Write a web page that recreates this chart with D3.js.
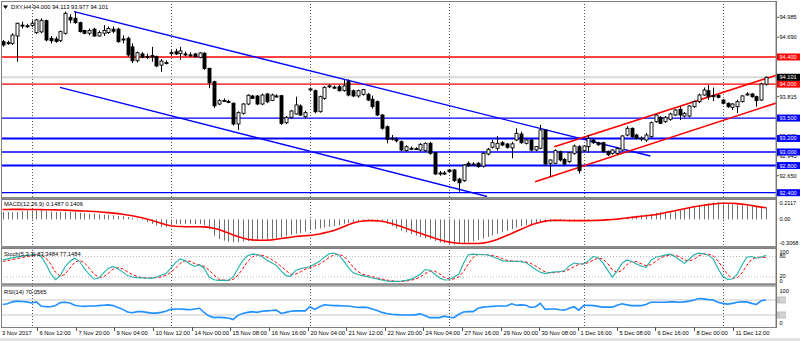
<!DOCTYPE html>
<html>
<head>
<meta charset="utf-8">
<script src="https://cdn.jsdelivr.net/npm/d3@7"></script>
<style>
  body { margin: 0; background: #fff; }
  svg { display: block; }
  text { font-family: "Liberation Sans", Arial, sans-serif; }
</style>
</head>
<body>
<svg id="chart" width="800" height="341"></svg>
<script>
// ---- DXY H4 candles ----
const opens = [
  94.626, 94.611, 94.602, 94.709, 94.870, 94.860, 94.866, 94.758, 94.770, 94.935,
  94.675, 94.665, 94.640, 94.749, 94.985, 94.970, 94.906, 94.790, 94.750, 94.810,
  94.710, 94.750, 94.760, 94.810, 94.810, 94.665, 94.675, 94.550, 94.345, 94.445,
  94.410, 94.420, 94.405, 94.280, 94.315, 94.460, 94.478, 94.450, 94.445, 94.430,
  94.445, 94.395, 94.455, 94.233, 94.036, 93.707, 93.760, 93.745, 93.718, 93.413,
  93.570, 93.707, 93.825, 93.825, 93.707, 93.855, 93.760, 93.826, 93.830, 93.432,
  93.510, 93.560, 93.678, 93.520, 93.930, 93.903, 93.594, 93.790, 93.970, 93.955,
  93.962, 93.905, 94.036, 93.903, 93.826, 93.850, 93.850, 93.777, 93.742, 93.545,
  93.373, 93.205, 93.180, 93.152, 93.020, 93.055, 93.050, 93.029, 93.020, 93.128,
  92.990, 92.690, 92.685, 92.735, 92.735, 92.600, 92.577, 92.833, 92.820, 92.833,
  92.790, 92.970, 93.070, 93.055, 93.137, 93.118, 93.060, 93.177, 93.265, 93.128,
  93.177, 93.030, 93.055, 93.324, 92.833, 92.833, 93.004, 92.890, 92.857, 92.980,
  93.078, 93.020, 93.078, 93.177, 93.137, 93.137, 93.010, 92.980, 92.980, 93.029,
  93.250, 93.349, 93.250, 93.200, 93.177, 93.226, 93.447, 93.511, 93.447, 93.482,
  93.545, 93.629, 93.530, 93.530, 93.668, 93.742, 93.840, 93.903, 93.830, 93.836,
  93.766, 93.718, 93.659, 93.668, 93.742, 93.850, 93.855, 93.815, 93.766, 94.000
];
const highs = [
  94.651, 94.640, 94.749, 94.906, 94.920, 94.890, 94.940, 94.960, 94.970, 94.950,
  94.710, 94.700, 94.790, 95.068, 95.030, 95.068, 94.920, 94.800, 94.820, 94.830,
  94.790, 94.870, 94.850, 94.850, 94.830, 94.720, 94.700, 94.600, 94.480, 94.470,
  94.450, 94.550, 94.420, 94.370, 94.350, 94.500, 94.520, 94.550, 94.480, 94.470,
  94.460, 94.470, 94.470, 94.240, 94.050, 93.780, 93.790, 93.770, 93.730, 93.600,
  93.720, 93.850, 93.840, 93.840, 93.860, 93.870, 93.860, 93.850, 93.840, 93.530,
  93.620, 93.815, 93.700, 93.610, 93.950, 93.920, 93.830, 93.970, 94.000, 93.980,
  93.990, 94.060, 94.070, 93.920, 93.920, 93.930, 93.870, 93.830, 93.760, 93.560,
  93.390, 93.250, 93.220, 93.170, 93.100, 93.080, 93.070, 93.130, 93.140, 93.150,
  93.000, 92.720, 92.720, 92.750, 92.750, 92.620, 92.820, 92.860, 92.850, 92.850,
  92.990, 93.060, 93.180, 93.235, 93.160, 93.130, 93.150, 93.350, 93.300, 93.190,
  93.190, 93.090, 93.400, 93.330, 92.890, 93.040, 93.020, 92.910, 93.000, 93.110,
  93.100, 93.100, 93.250, 93.190, 93.150, 93.150, 93.020, 93.040, 93.070, 93.250,
  93.380, 93.360, 93.270, 93.230, 93.280, 93.450, 93.560, 93.530, 93.530, 93.580,
  93.630, 93.668, 93.590, 93.690, 93.760, 93.860, 93.950, 93.987, 93.950, 93.850,
  93.780, 93.730, 93.720, 93.770, 93.840, 93.880, 93.870, 93.830, 94.020, 94.113
];
const lows = [
  94.552, 94.580, 94.577, 94.331, 94.820, 94.830, 94.840, 94.740, 94.750, 94.630,
  94.600, 94.610, 94.620, 94.730, 94.900, 94.890, 94.760, 94.735, 94.720, 94.700,
  94.700, 94.710, 94.740, 94.750, 94.610, 94.600, 94.400, 94.310, 94.320, 94.380,
  94.370, 94.330, 94.250, 94.180, 94.290, 94.420, 94.430, 94.360, 94.410, 94.400,
  94.390, 94.380, 94.210, 93.940, 93.650, 93.690, 93.740, 93.720, 93.390, 93.324,
  93.550, 93.690, 93.780, 93.690, 93.690, 93.720, 93.750, 93.800, 93.400, 93.410,
  93.490, 93.550, 93.530, 93.500, 93.900, 93.570, 93.580, 93.770, 93.940, 93.930,
  93.890, 93.890, 93.820, 93.810, 93.800, 93.830, 93.750, 93.640, 93.530, 93.330,
  93.128, 93.170, 93.140, 93.010, 93.000, 93.030, 93.030, 93.010, 93.000, 92.960,
  92.660, 92.650, 92.660, 92.700, 92.560, 92.415, 92.560, 92.780, 92.800, 92.770,
  92.770, 92.950, 93.050, 93.020, 93.090, 93.050, 92.907, 93.160, 93.120, 93.110,
  93.010, 93.010, 93.040, 92.800, 92.636, 92.820, 92.860, 92.800, 92.840, 92.960,
  92.680, 93.000, 92.990, 93.120, 93.090, 92.990, 92.940, 92.960, 92.960, 93.010,
  93.230, 93.210, 93.180, 93.160, 93.150, 93.210, 93.430, 93.410, 93.430, 93.460,
  93.530, 93.470, 93.510, 93.510, 93.650, 93.720, 93.830, 93.770, 93.750, 93.790,
  93.700, 93.650, 93.620, 93.575, 93.730, 93.830, 93.800, 93.668, 93.750, 93.977
];
const closes = [
  94.577, 94.605, 94.724, 94.897, 94.865, 94.855, 94.897, 94.946, 94.940, 94.651,
  94.640, 94.630, 94.774, 95.044, 94.946, 94.906, 94.774, 94.750, 94.790, 94.709,
  94.760, 94.790, 94.820, 94.780, 94.626, 94.655, 94.430, 94.345, 94.463, 94.395,
  94.400, 94.400, 94.268, 94.340, 94.318, 94.465, 94.445, 94.490, 94.440, 94.432,
  94.405, 94.460, 94.233, 94.020, 93.680, 93.756, 93.757, 93.740, 93.413, 93.580,
  93.707, 93.836, 93.790, 93.707, 93.840, 93.740, 93.840, 93.820, 93.423, 93.511,
  93.604, 93.693, 93.545, 93.580, 93.915, 93.594, 93.815, 93.953, 93.975, 93.953,
  93.903, 93.975, 93.840, 93.826, 93.903, 93.920, 93.766, 93.668, 93.545, 93.350,
  93.187, 93.200, 93.175, 93.029, 93.078, 93.052, 93.045, 93.113, 93.128, 92.980,
  92.676, 92.685, 92.690, 92.710, 92.577, 92.547, 92.808, 92.798, 92.823, 92.783,
  92.980, 93.040, 93.137, 93.128, 93.103, 93.069, 93.120, 93.275, 93.137, 93.177,
  93.029, 93.080, 93.324, 92.823, 92.882, 93.020, 92.882, 92.823, 92.990, 93.088,
  92.724, 93.088, 93.200, 93.137, 93.108, 93.004, 92.960, 93.030, 93.050, 93.236,
  93.349, 93.226, 93.200, 93.205, 93.250, 93.432, 93.545, 93.423, 93.511, 93.560,
  93.619, 93.545, 93.570, 93.678, 93.742, 93.840, 93.914, 93.815, 93.826, 93.806,
  93.718, 93.668, 93.707, 93.742, 93.826, 93.855, 93.815, 93.757, 94.002, 94.101
];

// ---- MACD(12,26,9): main as histogram, signal as line ----
const macdMain = [
  0.09, 0.09, 0.088, 0.09, 0.10, 0.105, 0.11, 0.112, 0.11, 0.10,
  0.095, 0.09, 0.092, 0.095, 0.092, 0.088, 0.08, 0.075, 0.07, 0.066,
  0.062, 0.058, 0.054, 0.05, 0.042, 0.038, 0.03, 0.018, 0.008, -0.01,
  -0.035, -0.055, -0.075, -0.09, -0.095, -0.07, -0.06, -0.058, -0.056, -0.055,
  -0.056, -0.058, -0.07, -0.12, -0.2, -0.24, -0.26, -0.275, -0.28, -0.278,
  -0.27, -0.265, -0.26, -0.25, -0.245, -0.24, -0.235, -0.23, -0.22, -0.205,
  -0.19, -0.175, -0.165, -0.15, -0.13, -0.12, -0.11, -0.1, -0.09, -0.08,
  -0.07, -0.055, -0.045, -0.035, -0.025, -0.015, -0.01, -0.012, -0.02, -0.035,
  -0.055, -0.08, -0.11, -0.14, -0.16, -0.18, -0.2, -0.215, -0.23, -0.245,
  -0.265, -0.28, -0.29, -0.298, -0.3068, -0.305, -0.295, -0.28, -0.265, -0.25,
  -0.235, -0.215, -0.195, -0.175, -0.155, -0.14, -0.12, -0.1, -0.085, -0.07,
  -0.06, -0.05, -0.04, -0.035, -0.03, -0.025, -0.02, -0.018, -0.015, -0.012,
  -0.02, -0.015, -0.01, -0.006, -0.006, -0.01, -0.002, 0.004, 0.01, 0.02,
  0.03, 0.038, 0.045, 0.052, 0.06, 0.068, 0.078, 0.088, 0.096, 0.104,
  0.112, 0.122, 0.132, 0.145, 0.158, 0.172, 0.185, 0.196, 0.205, 0.2117,
  0.21, 0.2, 0.19, 0.18, 0.172, 0.168, 0.16, 0.152, 0.15, 0.1487
];
const macdSignal = [
  0.12, 0.121, 0.122, 0.122, 0.122, 0.121, 0.12, 0.12, 0.119, 0.118,
  0.117, 0.116, 0.114, 0.112, 0.11, 0.107, 0.104, 0.101, 0.098, 0.095,
  0.092, 0.087, 0.082, 0.076, 0.07, 0.062, 0.053, 0.043, 0.032, 0.02,
  0.005, -0.012, -0.03, -0.048, -0.065, -0.078, -0.085, -0.088, -0.09, -0.09,
  -0.09, -0.09, -0.092, -0.098, -0.108, -0.125, -0.145, -0.165, -0.19, -0.21,
  -0.228, -0.242, -0.25, -0.254, -0.255, -0.254, -0.25, -0.242, -0.234, -0.226,
  -0.218, -0.21, -0.205, -0.2, -0.196, -0.188, -0.178, -0.165, -0.152, -0.135,
  -0.115, -0.09, -0.065, -0.045, -0.03, -0.02, -0.016, -0.016, -0.018, -0.024,
  -0.035, -0.05, -0.068, -0.088, -0.11, -0.13, -0.15, -0.17, -0.19, -0.21,
  -0.23, -0.248, -0.265, -0.278, -0.286, -0.292, -0.294, -0.295, -0.295, -0.294,
  -0.29, -0.28, -0.265, -0.245, -0.222, -0.198, -0.172, -0.145, -0.12, -0.095,
  -0.07, -0.05, -0.035, -0.022, -0.014, -0.012, -0.013, -0.014, -0.015, -0.016,
  -0.016, -0.016, -0.015, -0.014, -0.012, -0.01, -0.006, -0.002, 0.003, 0.01,
  0.017, 0.024, 0.03, 0.037, 0.043, 0.05, 0.058, 0.068, 0.08, 0.092,
  0.105, 0.118, 0.13, 0.142, 0.153, 0.163, 0.172, 0.18, 0.187, 0.193,
  0.196, 0.197, 0.196, 0.192, 0.186, 0.178, 0.168, 0.158, 0.149, 0.1406
];

// ---- Stochastic(5,3,3) ----
const stochMain = [
  70, 73, 76, 79, 81, 83, 85, 86, 80, 58,
  30, 12, 24, 50, 66, 75, 66, 45, 28, 14,
  16, 32, 45, 51, 44, 35, 24, 20, 18, 17,
  17, 16, 20, 25, 30, 45, 62, 73, 68, 58,
  51, 56, 45, 20, 12, 10, 10, 10, 20, 45,
  68, 82, 87, 86, 80, 70, 62, 54, 38, 24,
  22, 39, 44, 47, 50, 58, 66, 78, 88, 90,
  84, 68, 48, 32, 27, 24, 21, 17, 14, 11,
  8, 7, 7, 8, 10, 13, 20, 28, 42, 40,
  28, 18, 11, 12, 20, 28, 60, 85, 87, 86,
  85, 85, 80, 74, 68, 66, 66, 66, 65, 62,
  52, 42, 34, 30, 33, 35, 36, 38, 52, 61,
  59, 58, 68, 80, 77, 62, 40, 20, 38, 60,
  70, 66, 58, 52, 48, 68, 78, 81, 84, 87,
  80, 70, 60, 72, 85, 90, 88, 84, 73, 45,
  22, 13, 14, 28, 55, 78, 80, 75, 78, 83.3484
];
const stochSignal = [
  66, 68, 71, 74, 77, 80, 82, 84, 84, 76,
  58, 34, 22, 28, 46, 63, 69, 62, 46, 29,
  19, 20, 31, 43, 47, 44, 35, 27, 21, 18,
  17, 17, 18, 20, 25, 33, 46, 60, 68, 66,
  59, 55, 51, 40, 26, 14, 11, 10, 13, 25,
  44, 65, 79, 85, 84, 79, 71, 62, 51, 39,
  28, 28, 35, 43, 47, 52, 58, 67, 77, 85,
  87, 81, 67, 49, 36, 28, 24, 21, 17, 14,
  11, 9, 7, 7, 8, 10, 14, 20, 30, 37,
  37, 29, 19, 14, 14, 20, 36, 58, 77, 86,
  86, 85, 83, 80, 74, 69, 67, 66, 66, 64,
  60, 52, 43, 35, 32, 33, 35, 36, 42, 50,
  57, 59, 62, 69, 75, 73, 60, 41, 33, 39,
  56, 65, 65, 59, 53, 56, 65, 76, 81, 84,
  84, 79, 70, 67, 72, 82, 88, 87, 82, 67,
  47, 27, 16, 18, 32, 54, 71, 78, 78, 77.1484
];

// ---- RSI(14) ----
const rsiValues = [
  58, 60, 65, 67, 66, 65, 62, 65, 54, 52,
  52, 55, 63, 64, 62, 56, 54, 53, 54, 54,
  55, 56, 57, 55, 50, 45, 38, 36, 39, 39,
  37, 35, 35, 37, 40, 45, 46, 46, 45, 44,
  46, 48, 36, 27, 23, 24, 23, 22, 18, 29,
  34, 37, 39, 37, 40, 41, 42, 43, 34, 37,
  40, 41, 41, 41, 52, 45, 52, 57, 56, 55,
  55, 54, 54, 52, 50, 51, 50, 46, 42, 37,
  34, 32, 31, 30, 30, 30, 31, 33, 28, 23,
  23, 23, 27, 24, 23, 32, 38, 39, 39, 48,
  51, 52, 53, 54, 54, 54, 60, 56, 57, 56,
  50, 52, 61, 45, 46, 46, 44, 43, 48, 52,
  43, 55, 56, 55, 53, 51, 51, 51, 56, 60,
  57, 55, 55, 55, 58, 64, 64, 64, 64, 65,
  65, 64, 65, 67, 70, 74, 73, 71, 70, 64,
  61, 59, 61, 64, 65, 65, 61, 58, 68, 70.0565
];

// ---- Axis labels, levels and drawn objects ----
const timeLabels = ["3 Nov 2017", "6 Nov 12:00", "7 Nov 20:00", "9 Nov 04:00", "10 Nov 12:00",
  "14 Nov 00:00", "15 Nov 08:00", "16 Nov 16:00", "20 Nov 04:00", "21 Nov 12:00",
  "22 Nov 20:00", "24 Nov 04:00", "27 Nov 16:00", "29 Nov 00:00", "30 Nov 08:00",
  "1 Dec 16:00", "5 Dec 08:00", "6 Dec 16:00", "8 Dec 00:00", "11 Dec 12:00"];
const weekStarts = [6, 35, 64, 93, 121, 150];           // bar index of each Monday 00:00
const priceTicks = [94.985, 94.690, 93.815, 93.235, 92.945, 92.650];
const resistanceLevels = [94.400, 94.000];
const supportLevels = [93.500, 93.200, 93.000, 92.800, 92.400];
const supportWidths = [1.3, 2, 1.3, 2, 1.3];
const fallingChannel = [
  [[14.85, 95.068], [134.9, 92.941]],
  [[11.94, 93.953], [100.9, 92.344]]
];
const risingChannel = [
  [[114.9, 93.078], [161.3, 94.135]],
  [[110.9, 92.562], [161.3, 93.726]]
];
const title = { symbol: "DXY,H4", open: "94.000", high: "94.113", low: "93.977", close: "94.101" };

// ---- Layout ----
const svg = d3.select("#chart");
const LEFT = 1, RIGHT = 776;
const P = {
  main: [1, 197],
  macd: [199, 246],
  stoch: [248, 283.5],
  rsi: [285.5, 327]
};
const n = closes.length;

const x = d3.scaleLinear().domain([0, n - 1]).range([2.7, 766]);
const yP = d3.scaleLinear().domain([92.4, 94.985]).range([192.7, 17.3]);
const yM = d3.scaleLinear().domain([-0.3068, 0.2117]).range([244.5, 202]);
const yS = d3.scaleLinear().domain([0, 100]).range([283.8, 249.7]);
const yR = d3.scaleLinear().domain([0, 100]).range([326.25, 288.75]);
const px = i => Math.round(x(i)) + 0.5;

svg.append("rect").attr("width", 800).attr("height", 341).attr("fill", "#fff");
svg.append("rect").attr("x", 0).attr("y", 338).attr("width", 800).attr("height", 3).attr("fill", "#e2e2e2");

const defs = svg.append("defs");
defs.append("clipPath").attr("id", "clipMain")
  .append("rect").attr("x", LEFT).attr("y", P.main[0]).attr("width", RIGHT - LEFT).attr("height", P.main[1] - P.main[0]);

// period separators
svg.append("g").selectAll("line").data(weekStarts).join("line")
  .attr("x1", d => px(d)).attr("x2", d => px(d))
  .attr("y1", P.main[0]).attr("y2", P.rsi[1])
  .attr("stroke", "#555").attr("stroke-width", 1).attr("stroke-dasharray", "1,2");

// ---- Main panel ----
const gMain = svg.append("g").attr("clip-path", "url(#clipMain)");

// bid line
gMain.append("line").attr("x1", LEFT).attr("x2", RIGHT)
  .attr("y1", yP(closes[n - 1])).attr("y2", yP(closes[n - 1]))
  .attr("stroke", "#d9d9d9").attr("stroke-width", 2);

gMain.selectAll(".res").data(resistanceLevels).join("line").attr("class", "res")
  .attr("x1", LEFT).attr("x2", RIGHT).attr("y1", d => yP(d)).attr("y2", d => yP(d))
  .attr("stroke", "#ff0000").attr("stroke-width", 1.4);
gMain.selectAll(".sup").data(supportLevels).join("line").attr("class", "sup")
  .attr("x1", LEFT).attr("x2", RIGHT).attr("y1", d => yP(d)).attr("y2", d => yP(d))
  .attr("stroke", "#0000ff").attr("stroke-width", (d, i) => supportWidths[i]);

const seg = d3.line().x(d => x(d[0])).y(d => yP(d[1]));
gMain.selectAll(".fall").data(fallingChannel).join("path").attr("class", "fall")
  .attr("d", seg).attr("stroke", "#0000ff").attr("stroke-width", 1.4).attr("fill", "none");
gMain.selectAll(".rise").data(risingChannel).join("path").attr("class", "rise")
  .attr("d", seg).attr("stroke", "#ff0000").attr("stroke-width", 1.6).attr("fill", "none");

// candles
const bars = d3.range(n).map(i => ({ i, o: opens[i], h: highs[i], l: lows[i], c: closes[i] }));
const gC = gMain.append("g");
gC.selectAll(".wick").data(bars).join("line").attr("class", "wick")
  .attr("x1", d => px(d.i)).attr("x2", d => px(d.i))
  .attr("y1", d => yP(d.h)).attr("y2", d => yP(d.l))
  .attr("stroke", "#000").attr("stroke-width", 1);
gC.selectAll(".body").data(bars).join("rect").attr("class", "body")
  .attr("x", d => px(d.i) - 1.5)
  .attr("y", d => Math.min(yP(d.o), yP(d.c)))
  .attr("width", 3)
  .attr("height", d => Math.max(1, Math.abs(yP(d.o) - yP(d.c))))
  .attr("fill", d => d.c >= d.o ? "#fff" : "#000")
  .attr("stroke", "#000").attr("stroke-width", 0.9);

// ---- MACD panel ----
const gMacd = svg.append("g");
gMacd.selectAll("line").data(macdMain).join("line")
  .attr("x1", (d, i) => px(i)).attr("x2", (d, i) => px(i))
  .attr("y1", yM(0)).attr("y2", d => yM(d))
  .attr("stroke", "#707070").attr("stroke-width", 1);
gMacd.append("path").datum(macdSignal)
  .attr("d", d3.line().x((d, i) => x(i)).y(d => yM(d)))
  .attr("fill", "none").attr("stroke", "#ff0000").attr("stroke-width", 1.6);

// ---- Stochastic panel ----
const gSt = svg.append("g");
gSt.selectAll("line").data([80, 20]).join("line")
  .attr("x1", LEFT).attr("x2", RIGHT).attr("y1", d => yS(d)).attr("y2", d => yS(d))
  .attr("stroke", "#b8b8b8").attr("stroke-dasharray", "1,2");
gSt.append("path").datum(stochSignal)
  .attr("d", d3.line().x((d, i) => x(i)).y(d => yS(d)))
  .attr("fill", "none").attr("stroke", "#ff0000").attr("stroke-width", 1).attr("stroke-dasharray", "3,2");
gSt.append("path").datum(stochMain)
  .attr("d", d3.line().x((d, i) => x(i)).y(d => yS(d)))
  .attr("fill", "none").attr("stroke", "#20b2aa").attr("stroke-width", 1.1);

// ---- RSI panel ----
const gR = svg.append("g");
gR.selectAll("line").data([70, 30]).join("line")
  .attr("x1", LEFT).attr("x2", RIGHT).attr("y1", d => yR(d)).attr("y2", d => yR(d))
  .attr("stroke", "#c8c8c8").attr("stroke-width", 1);
gR.append("path").datum(rsiValues)
  .attr("d", d3.line().x((d, i) => x(i)).y(d => yR(d)))
  .attr("fill", "none").attr("stroke", "#1e90ff").attr("stroke-width", 1.6);

// ---- Frames ----
const frame = svg.append("g").attr("fill", "none").attr("stroke", "#808080");
Object.values(P).forEach(([t, b]) => {
  frame.append("rect").attr("x", LEFT + 0.5).attr("y", t + 0.5)
    .attr("width", RIGHT - LEFT - 0.5).attr("height", b - t).attr("stroke-width", 1);
});
[P.main[1] + 1, P.macd[1] + 1, P.stoch[1] + 1].forEach(yy => {
  svg.append("line").attr("x1", LEFT).attr("x2", RIGHT).attr("y1", yy).attr("y2", yy)
    .attr("stroke", "#8a8a8a").attr("stroke-width", 2);
});

// ---- Price axis ----
const AX = 779.5, FS = 5.6;
const gAx = svg.append("g").attr("font-size", FS);
priceTicks.forEach(v => {
  gAx.append("line").attr("x1", RIGHT).attr("x2", RIGHT + 3).attr("y1", yP(v)).attr("y2", yP(v)).attr("stroke", "#555");
  gAx.append("text").attr("x", AX).attr("y", yP(v) + 2).attr("fill", "#000").text(v.toFixed(3));
});
function priceBox(v, fill, txt) {
  gAx.append("rect").attr("x", RIGHT + 1).attr("y", yP(v) - 3.5).attr("width", 23).attr("height", 7).attr("fill", fill);
  gAx.append("text").attr("x", AX).attr("y", yP(v) + 2).attr("fill", "#fff").text(txt);
}
resistanceLevels.forEach(v => priceBox(v, "#ff0000", v.toFixed(3)));
supportLevels.forEach(v => priceBox(v, "#0000ff", v.toFixed(3)));
priceBox(closes[n - 1], "#000", closes[n - 1].toFixed(3));

// indicator scales
function sideLabel(yy, t, box) {
  if (box) {
    gAx.append("rect").attr("x", RIGHT + 1).attr("y", yy - 3.5).attr("width", 9).attr("height", 7).attr("fill", "#c4c4c4");
  }
  gAx.append("text").attr("x", AX).attr("y", yy + 2).attr("fill", box ? "#eee" : "#000").text(t);
}
sideLabel(Math.max(yM(0.2117), P.macd[0] + 4), "0.2117");
sideLabel(yM(0), "0.00");
sideLabel(Math.min(yM(-0.3068), P.macd[1] - 3), "-0.3068");
sideLabel(Math.max(yS(100), P.stoch[0] + 3.5), "100");
sideLabel(yS(80) - 1, "80");
sideLabel(yS(20) - 0.5, "20");
sideLabel(Math.min(yS(0), P.stoch[1] - 2.5), "0");
sideLabel(Math.max(yR(100), P.rsi[0] + 5), "100");
sideLabel(yR(70), "70", true);
sideLabel(yR(30), "30", true);
sideLabel(Math.min(yR(0), P.rsi[1] - 4), "0");

svg.append("line").attr("x1", RIGHT + 0.5).attr("x2", RIGHT + 0.5).attr("y1", P.main[0]).attr("y2", P.rsi[1] + 1)
  .attr("stroke", "#777");

// ---- Time axis ----
const gT = svg.append("g").attr("font-size", 5.8).attr("fill", "#000");
timeLabels.forEach((t, k) => {
  if (k === 0) {
    gT.append("text").attr("x", 2).attr("y", 334.5).text(t);
    return;
  }
  const xi = Math.round(x(7.15 + (k - 1) * 8.05)) + 0.5;
  gT.append("line").attr("x1", xi).attr("x2", xi).attr("y1", P.rsi[1]).attr("y2", 331).attr("stroke", "#555");
  gT.append("text").attr("x", xi + 2).attr("y", 334.5).text(t);
});

// ---- Titles ----
svg.append("path").attr("d", "M3,5.5 L8,5.5 L5.5,9 Z").attr("fill", "#000");
svg.append("text").attr("x", 11).attr("y", 9).attr("font-size", 5.8).attr("fill", "#000")
  .text(`${title.symbol} ${title.open} ${title.high} ${title.low} ${title.close}`);
const last = n - 1;
svg.append("text").attr("x", 4).attr("y", 206).attr("font-size", 5.8)
  .text(`MACD(12,26,9) ${macdMain[last].toFixed(4)} ${macdSignal[last].toFixed(4)}`);
svg.append("text").attr("x", 4).attr("y", 256.3).attr("font-size", 5.8)
  .text(`Stoch(5,3,3) ${stochMain[last].toFixed(4)} ${stochSignal[last].toFixed(4)}`);
svg.append("text").attr("x", 4).attr("y", 294.3).attr("font-size", 5.8)
  .text(`RSI(14) ${rsiValues[last].toFixed(4)}`);
</script>
</body>
</html>
